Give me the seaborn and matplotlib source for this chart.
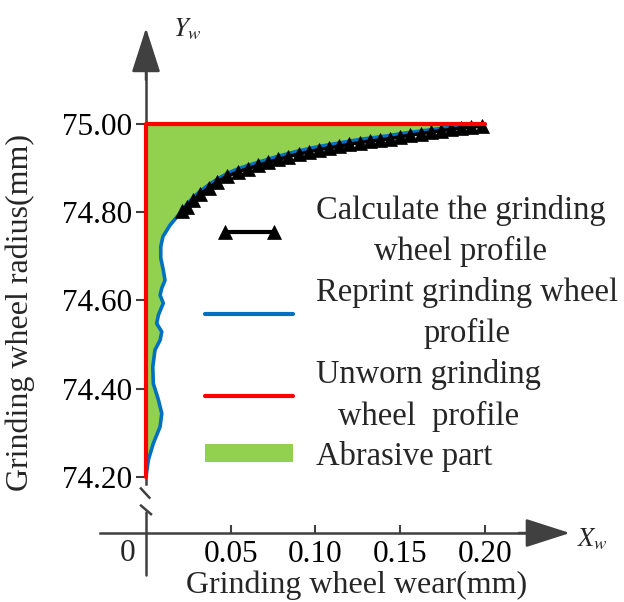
import matplotlib
matplotlib.use("Agg")
import matplotlib.pyplot as plt
import seaborn as sns
from matplotlib.legend_handler import HandlerLine2D

# ---------------- data ----------------
calc_x = [0.021, 0.024, 0.028, 0.032, 0.037, 0.042, 0.048, 0.054, 0.060, 0.066,
          0.072, 0.078, 0.084, 0.090, 0.096, 0.102, 0.108, 0.114, 0.120, 0.126,
          0.132, 0.138, 0.144, 0.150, 0.156, 0.162, 0.168, 0.174, 0.180, 0.186,
          0.192, 0.198]
calc_y = [74.803, 74.812, 74.827, 74.841, 74.855, 74.869, 74.882, 74.891, 74.899, 74.906,
          74.913, 74.920, 74.926, 74.932, 74.937, 74.942, 74.946, 74.950, 74.954, 74.958,
          74.961, 74.964, 74.967, 74.971, 74.975, 74.978, 74.982, 74.985, 74.988, 74.991,
          74.993, 74.995]

reprint_x = [0.0000, 0.0014, 0.0043, 0.0083, 0.0093, 0.0073, 0.0043, 0.0040, 0.0053, 0.0083,
             0.0093, 0.0063, 0.0073, 0.0102, 0.0083, 0.0093, 0.0112, 0.0102, 0.0087, 0.0087,
             0.0100, 0.0142, 0.0201, 0.024, 0.028, 0.032, 0.037, 0.042, 0.048, 0.054,
             0.060, 0.066, 0.072, 0.078, 0.084, 0.090, 0.096, 0.102, 0.108, 0.114,
             0.120, 0.126, 0.132, 0.138, 0.144, 0.150, 0.156, 0.162, 0.168, 0.174,
             0.180, 0.186, 0.192, 0.198, 0.200]
reprint_y = [74.201, 74.239, 74.276, 74.314, 74.344, 74.375, 74.412, 74.450, 74.488, 74.510,
             74.529, 74.548, 74.567, 74.594, 74.612, 74.628, 74.646, 74.669, 74.696, 74.722,
             74.745, 74.771, 74.798, 74.818, 74.834, 74.848, 74.862, 74.875, 74.888, 74.898,
             74.906, 74.913, 74.920, 74.927, 74.933, 74.939, 74.944, 74.949, 74.953, 74.957,
             74.961, 74.965, 74.968, 74.971, 74.974, 74.978, 74.981, 74.984, 74.987, 74.990,
             74.993, 74.995, 74.997, 74.998, 74.999]

unworn_x = [0.0, 0.0, 0.20]
unworn_y = [74.20, 75.00, 75.00]

x_ticks = [0.05, 0.10, 0.15, 0.20]
x_tick_labels = ["0.05", "0.10", "0.15", "0.20"]
y_ticks = [74.20, 74.40, 74.60, 74.80, 75.00]
y_tick_labels = ["74.20", "74.40", "74.60", "74.80", "75.00"]

legend_labels = ["Calculate the grinding\nwheel profile",
                 "Reprint grinding wheel\nprofile",
                 "Unworn grinding\nwheel  profile",
                 "Abrasive part"]
x_label = "Grinding wheel wear(mm)"
y_label = "Grinding wheel radius(mm)"

# axis decoration geometry (data units)
X_AXIS_Y = 74.073
X_AXIS_START = -0.027
X_ARROW_TIP = 0.2501
Y_ARROW_TIP = 75.2176
Y_UPPER_BOTTOM = 74.185
Y_LOWER_TOP = 74.121
Y_LOWER_BOTTOM = 73.978

AXIS_COLOR = "#404040"
GREEN = "#92D050"
BLUE = "#0070C0"
RED = "#FF0000"

# ---------------- style ----------------
sns.set_theme(style="white")
plt.rcParams["font.family"] = ["Liberation Serif", "DejaVu Serif"]
plt.rcParams["mathtext.fontset"] = "stix"

fig = plt.figure(figsize=(6.24, 6.02), dpi=100)
ax = fig.add_axes([0.1525, 0.02442, 0.7877, 0.9455])
ax.set_xlim(-0.03, 0.26)
ax.set_ylim(73.95, 75.24)

# abrasive part (between unworn and reprint profile)
fill = ax.fill(reprint_x + [unworn_x[1]], reprint_y + [unworn_y[1]],
               color=GREEN, edgecolor="none", zorder=1, label=legend_labels[3])[0]

sns.lineplot(x=reprint_x, y=reprint_y, sort=False, estimator=None, ax=ax,
             color=BLUE, linewidth=2.6, zorder=2)
sns.lineplot(x=calc_x, y=calc_y, sort=False, estimator=None, ax=ax,
             color="black", linewidth=2.5, marker="^", markersize=10.5,
             markeredgecolor="black", markeredgewidth=0.5, zorder=3)
sns.lineplot(x=unworn_x, y=unworn_y, sort=False, estimator=None, ax=ax,
             color=RED, linewidth=3.0, zorder=4)

lines = ax.get_lines()
reprint_line, calc_line, unworn_line = lines[0], lines[1], lines[2]

# ---------------- axes ----------------
for s in ["top", "right"]:
    ax.spines[s].set_visible(False)
ax.spines["left"].set_position(("data", 0))
ax.spines["left"].set_bounds(Y_UPPER_BOTTOM, 75.14)
ax.spines["bottom"].set_position(("data", X_AXIS_Y))
ax.spines["bottom"].set_bounds(X_AXIS_START, 0.225)
for s in ["left", "bottom"]:
    ax.spines[s].set_color(AXIS_COLOR)
    ax.spines[s].set_linewidth(1.8)
    ax.spines[s].set_zorder(2.5)

ax.set_yticks(y_ticks, y_tick_labels)
ax.set_xticks(x_ticks, x_tick_labels)
ax.tick_params(axis="y", direction="out", length=7, width=1.5, color=AXIS_COLOR,
               pad=3, labelsize=22.5, labelcolor="black", left=True)
ax.tick_params(axis="x", direction="in", length=6, width=1.5, color=AXIS_COLOR,
               pad=5, labelsize=22.5, labelcolor="black", bottom=True)

arrow_style = dict(arrowstyle="-|>,head_length=1.4,head_width=0.45", mutation_scale=20,
                   color=AXIS_COLOR, lw=1.8, shrinkA=0, shrinkB=0)
ax.annotate("", xy=(0, Y_ARROW_TIP), xytext=(0, 75.10), arrowprops=arrow_style,
            annotation_clip=False)
ax.annotate("", xy=(X_ARROW_TIP, X_AXIS_Y), xytext=(0.22, X_AXIS_Y), arrowprops=arrow_style,
            annotation_clip=False)

# axis break and lower part of the vertical axis
ax.plot([-0.0035, 0.0025], [74.176, 74.151], color=AXIS_COLOR, lw=1.8, zorder=2.5,
        solid_capstyle="butt")
ax.plot([-0.0035, 0.0035], [74.137, 74.114], color=AXIS_COLOR, lw=1.8, zorder=2.5,
        solid_capstyle="butt")
ax.plot([0, 0], [Y_LOWER_TOP, Y_LOWER_BOTTOM], color=AXIS_COLOR, lw=1.8, zorder=2.5)

ax.annotate("0", xy=(0, X_AXIS_Y), xytext=(-8, -4), textcoords="offset points",
            ha="right", va="top", fontsize=22.5)
ax.text(0.0242, 75.2153, r"$Y_w$", fontsize=19, ha="center", va="center")
ax.text(0.2631, 74.0595, r"$X_w$", fontsize=19, ha="center", va="center")

ax.set_xlabel(x_label, fontsize=23)
ax.xaxis.set_label_coords(0.5327, 0.029)
ax.set_ylabel(y_label, fontsize=23)
ax.yaxis.set_label_coords(-0.123, 0.482)

# ---------------- legend ----------------
leg = ax.legend(handles=[calc_line, reprint_line, unworn_line, fill],
                labels=legend_labels, loc="upper left",
                bbox_to_anchor=(0.2235, 0.690), borderaxespad=0, borderpad=0,
                frameon=False, fontsize=23.5, handlelength=2.7, handletextpad=0.7,
                handleheight=0.5, labelspacing=0.28,
                handler_map={calc_line: HandlerLine2D(numpoints=2, marker_pad=0.6)})
for t in leg.get_texts():
    t.set_multialignment("center")
    t.set_linespacing(1.45)
for ln in leg.get_lines():
    ln.set_linewidth(3.0)

fig.savefig("out.png", dpi=100)
